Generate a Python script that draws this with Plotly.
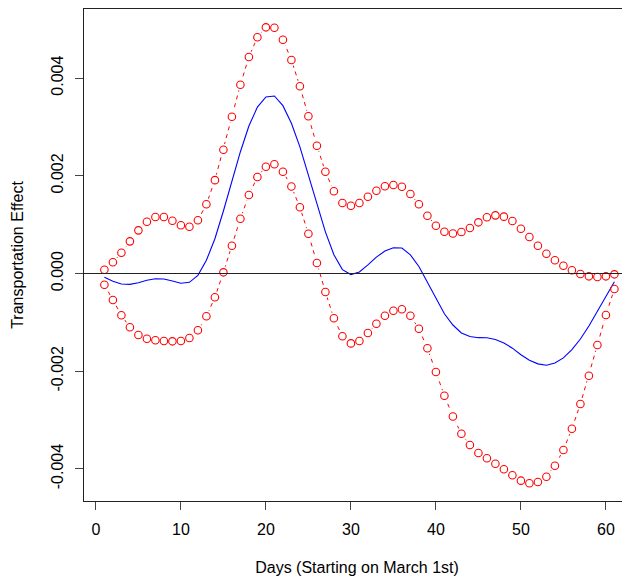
import plotly.graph_objects as go

days = list(range(1, 62))

upper = [0.000078, 0.000229, 0.000426, 0.000658, 0.000883, 0.001060, 0.001156, 0.001156, 0.001080, 0.000986,
         0.000958, 0.001088, 0.001416, 0.001910, 0.002533, 0.003208, 0.003863, 0.004430, 0.004833, 0.005037,
         0.005029, 0.004784, 0.004368, 0.003830, 0.003216, 0.002615, 0.002083, 0.001682, 0.001442, 0.001387,
         0.001442, 0.001571, 0.001694, 0.001784, 0.001811, 0.001776, 0.001627, 0.001416, 0.001183, 0.000978,
         0.000855, 0.000818, 0.000849, 0.000931, 0.001047, 0.001150, 0.001190, 0.001163, 0.001074, 0.000917,
         0.000747, 0.000569, 0.000405, 0.000270, 0.000160, 0.000065, -0.000010, -0.000058, -0.000072, -0.000058,
         -0.000017]

lower = [-0.000229, -0.000542, -0.000855, -0.001101, -0.001258, -0.001334, -0.001367, -0.001381, -0.001388, -0.001381,
         -0.001320, -0.001162, -0.000876, -0.000487, 0.000024, 0.000569, 0.001121, 0.001606, 0.001974, 0.002185,
         0.002234, 0.002083, 0.001780, 0.001354, 0.000814, 0.000215, -0.000379, -0.000917, -0.001285, -0.001430,
         -0.001381, -0.001217, -0.001027, -0.000863, -0.000761, -0.000733, -0.000863, -0.001129, -0.001530, -0.002015,
         -0.002500, -0.002926, -0.003280, -0.003509, -0.003673, -0.003781, -0.003892, -0.004006, -0.004129, -0.004239,
         -0.004293, -0.004266, -0.004158, -0.003933, -0.003612, -0.003176, -0.002670, -0.002091, -0.001463, -0.000849,
         -0.000317]

estimate = [-0.000076, -0.000157, -0.000215, -0.000222, -0.000188, -0.000137, -0.000106, -0.000113, -0.000154, -0.000198,
            -0.000181, -0.000037, 0.000270, 0.000712, 0.001279, 0.001889, 0.002492, 0.003018, 0.003404, 0.003611,
            0.003632, 0.003434, 0.003074, 0.002592, 0.002015, 0.001415, 0.000852, 0.000383, 0.000079, -0.000022,
            0.000031, 0.000177, 0.000334, 0.000461, 0.000525, 0.000522, 0.000382, 0.000144, -0.000174, -0.000519,
            -0.000823, -0.001054, -0.001216, -0.001289, -0.001313, -0.001316, -0.001351, -0.001422, -0.001528, -0.001661,
            -0.001773, -0.001849, -0.001877, -0.001832, -0.001726, -0.001556, -0.001340, -0.001075, -0.000768, -0.000454,
            -0.000167]

x_ticks = [0, 10, 20, 30, 40, 50, 60]
y_ticks = [-0.004, -0.002, 0.0, 0.002, 0.004]
y_tick_labels = ["-0.004", "-0.002", "0.000", "0.002", "0.004"]

RED = "#FF0000"
BLUE = "#0000FF"
FONT = "Liberation Sans, Arial, sans-serif"

fig = go.Figure()

# dashed red band lines
for band in (upper, lower):
    fig.add_trace(go.Scatter(x=days, y=band, mode="lines",
                             line=dict(color=RED, width=1, dash="4px,4px"),
                             hoverinfo="skip", showlegend=False))
# white gaps around points (R type="b")
for band in (upper, lower):
    fig.add_trace(go.Scatter(x=days, y=band, mode="markers",
                             marker=dict(symbol="circle", size=12, color="white", line=dict(width=0)),
                             hoverinfo="skip", showlegend=False))
# estimate line
fig.add_trace(go.Scatter(x=days, y=estimate, mode="lines",
                         line=dict(color=BLUE, width=1.1), showlegend=False))
# open circles
for band in (upper, lower):
    fig.add_trace(go.Scatter(x=days, y=band, mode="markers",
                             marker=dict(symbol="circle-open", size=7.5, color=RED, line=dict(width=1.1, color=RED)),
                             showlegend=False))

fig.add_shape(type="line", xref="paper", x0=0, x1=1, yref="y", y0=0, y1=0,
              line=dict(color="#222222", width=1.1), layer="above")

fig.update_layout(
    width=622, height=576,
    margin=dict(l=76, r=0, t=1, b=83),
    paper_bgcolor="white", plot_bgcolor="white",
    font=dict(family=FONT, size=16, color="black"),
    xaxis=dict(range=[-1.4, 62.835], tickvals=x_ticks, ticks="outside", ticklen=8,
               tickcolor="#444444", tickwidth=1, showline=True, linecolor="#222222", linewidth=1.2,
               mirror=True, showgrid=False, zeroline=False, ticklabelstandoff=6,
               tickfont=dict(size=16),
               title=dict(text="Days (Starting on March 1st)", font=dict(size=16), standoff=24)),
    yaxis=dict(range=[-0.004655, 0.005412], tickvals=y_ticks, ticktext=y_tick_labels,
               ticks="outside", ticklen=8, tickcolor="#444444", tickwidth=1,
               showline=True, linecolor="#222222", linewidth=1.2, mirror=False,
               showgrid=False, zeroline=False, tickangle=-90, ticklabelstandoff=6,
               tickfont=dict(size=16),
               title=dict(text="Transportation Effect", font=dict(size=16), standoff=20)),
)

fig.write_html("out.html")
